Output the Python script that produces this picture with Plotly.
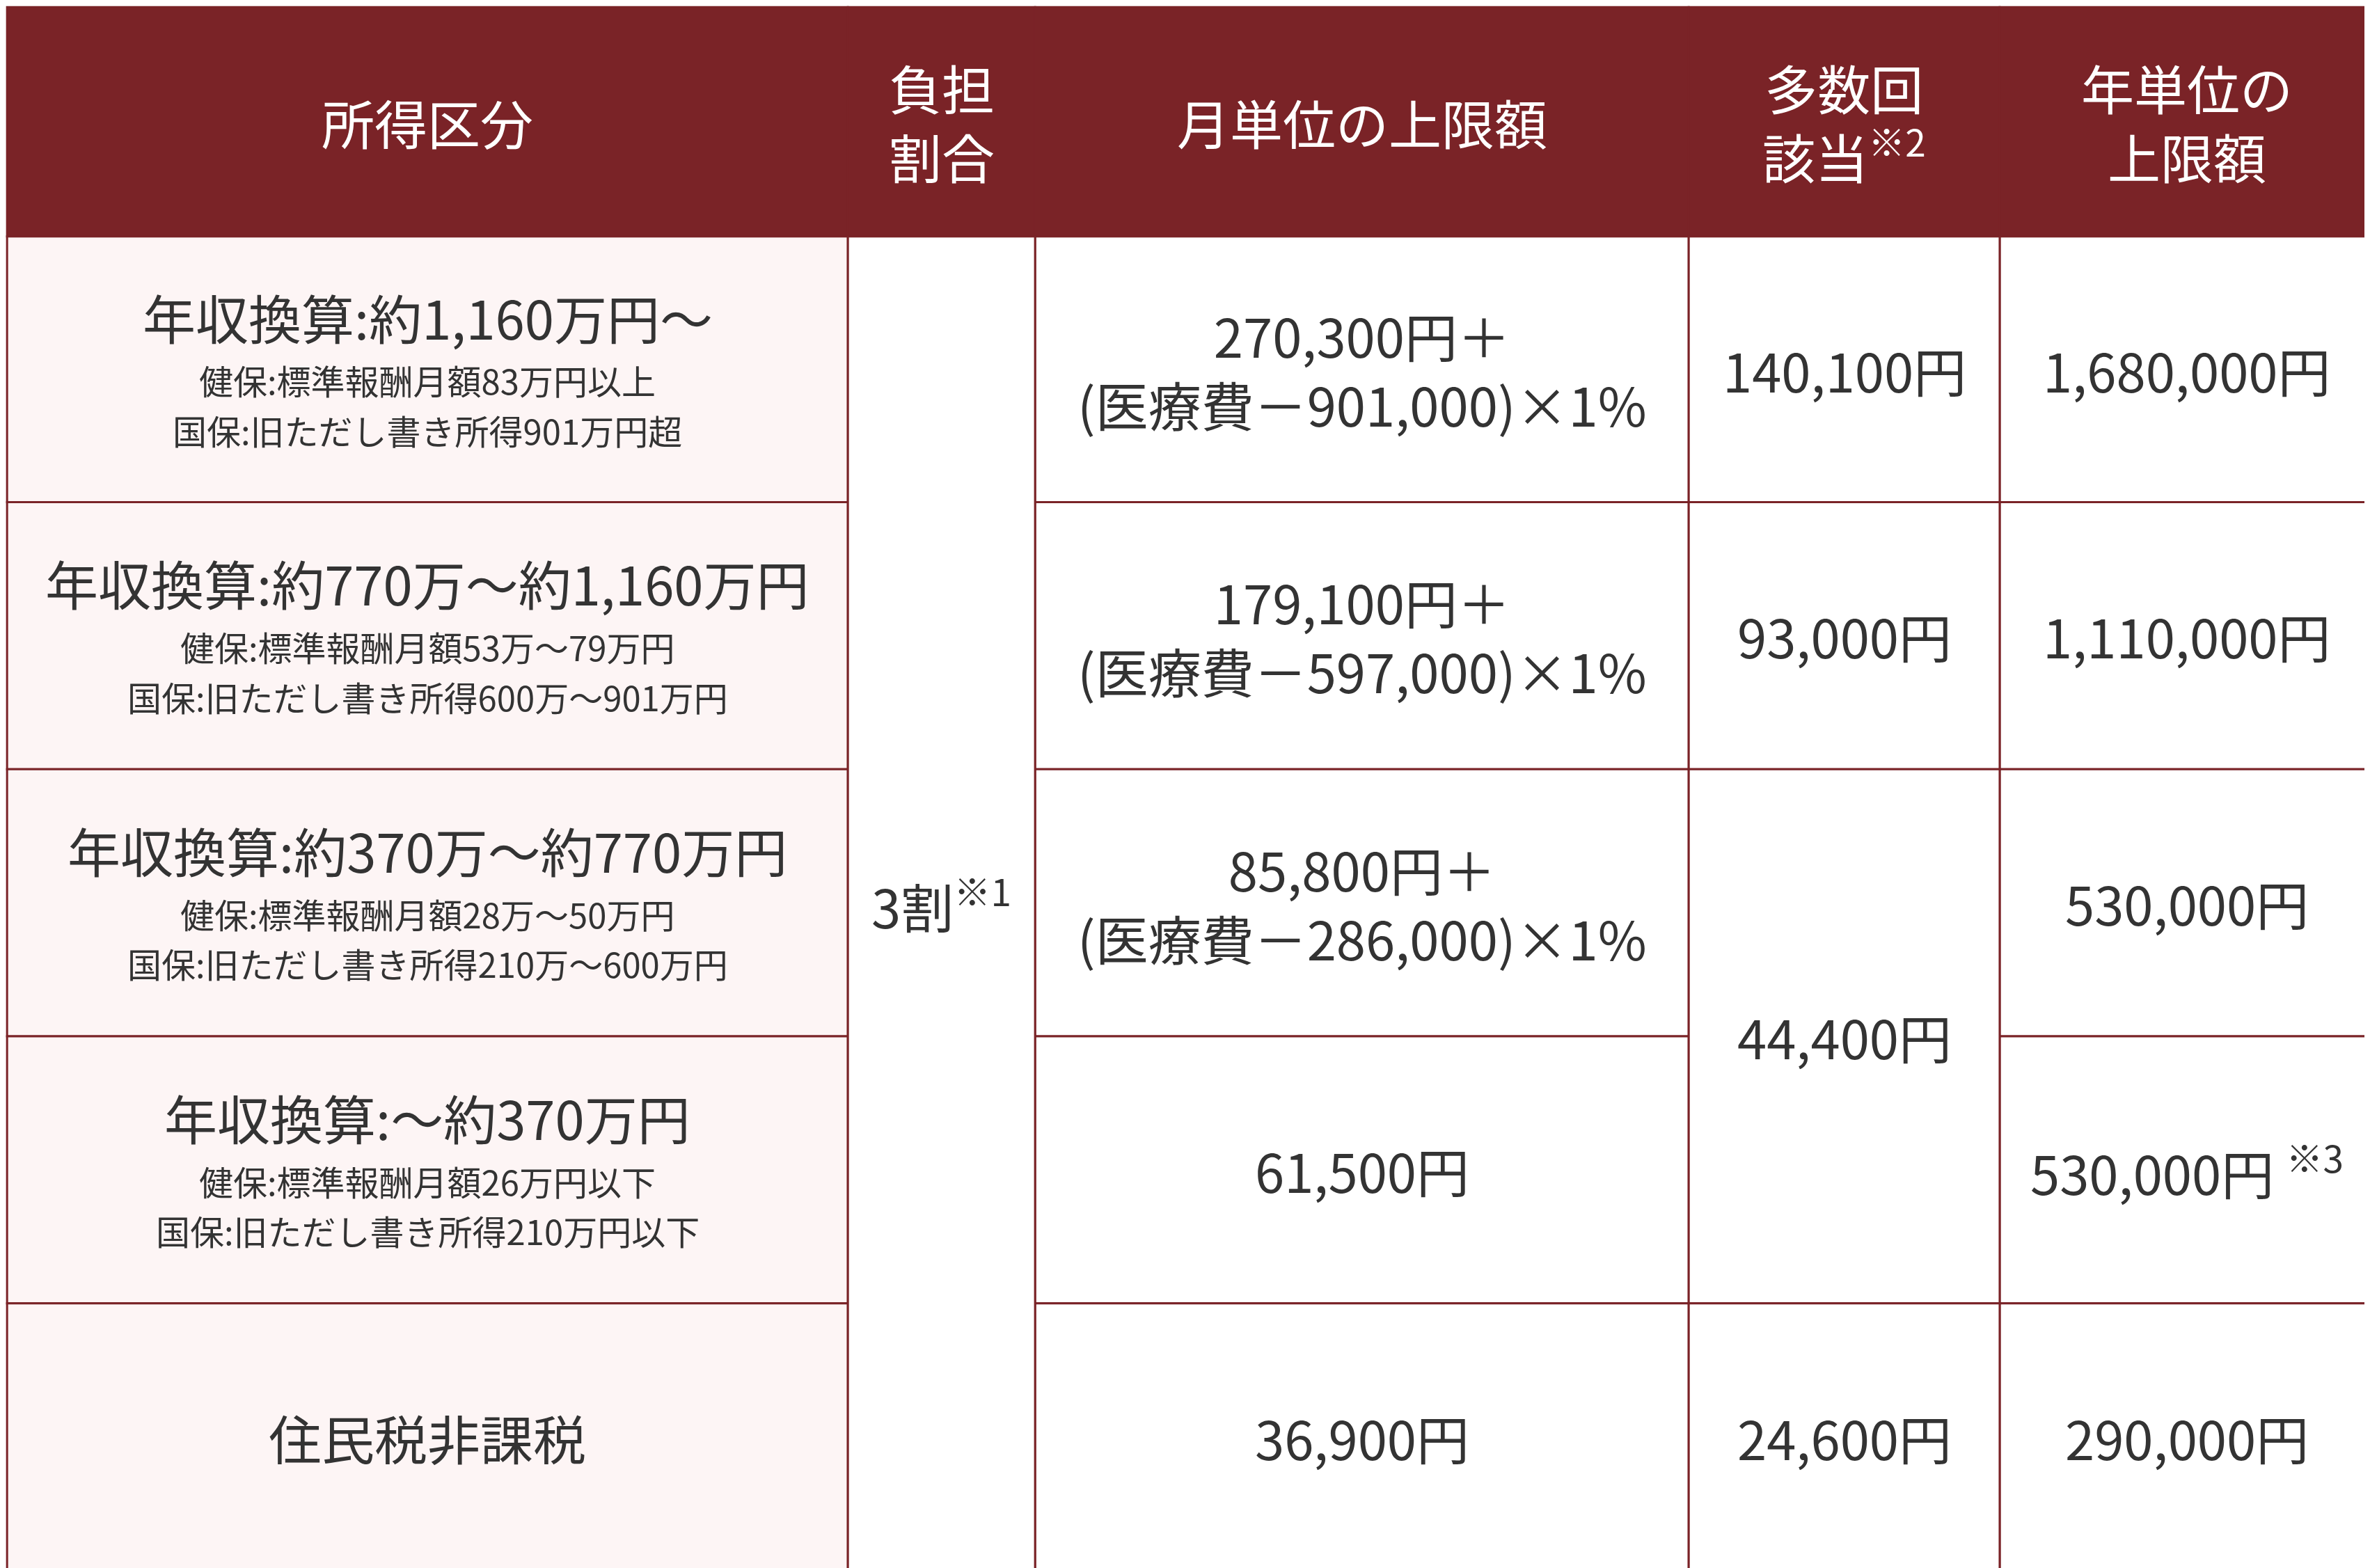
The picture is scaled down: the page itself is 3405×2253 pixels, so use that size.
import plotly.graph_objects as go

# grid (display units, reference ~1568 x 1036)
col_edges = [0, 557, 681, 1114, 1320, 1568]
row_edges = [0, 152, 328, 505, 682, 859, 1036]

headers = ["所得区分", "負担<br>割合", "月単位の上限額", "多数回<br>該当<sup>※2</sup>", "年単位の<br>上限額"]

income_main = ["年収換算:約1,160万円～", "年収換算:約770万～約1,160万円",
               "年収換算:約370万～約770万円", "年収換算:～約370万円", "住民税非課税"]
income_kenpo = ["健保:標準報酬月額83万円以上", "健保:標準報酬月額53万～79万円",
                "健保:標準報酬月額28万～50万円", "健保:標準報酬月額26万円以下", ""]
income_kokuho = ["国保:旧ただし書き所得901万円超", "国保:旧ただし書き所得600万～901万円",
                 "国保:旧ただし書き所得210万～600万円", "国保:旧ただし書き所得210万円以下", ""]
burden = "3割<sup>※1</sup>"
monthly = ["270,300円＋<br>(医療費－901,000)×1%", "179,100円＋<br>(医療費－597,000)×1%",
           "85,800円＋<br>(医療費－286,000)×1%", "61,500円", "36,900円"]
# (text, first row, last row)
multi = [("140,100円", 0, 0), ("93,000円", 1, 1), ("44,400円", 2, 3), ("24,600円", 4, 4)]
annual = ["1,680,000円", "1,110,000円", "530,000円", "530,000円 <sup>※3</sup>", "290,000円"]

DARK = "#7a2327"
PINK = "#fdf5f5"
TEXT = "#333333"
S = 3405 / 1568
BIG = int(35 * S)
SMALL = int(23 * S)

fig = go.Figure()
shapes, annos = [], []

def label(x, y, text, size, color=TEXT):
    annos.append(dict(x=x, y=y, xref="x", yref="y", text=text, showarrow=False,
                      font=dict(size=size, color=color), align="center"))

def cell(c, r0, r1, text, fill, color=TEXT, size=BIG):
    x0, x1 = col_edges[c], col_edges[c + 1]
    y0, y1 = row_edges[r0], row_edges[r1 + 1]
    shapes.append(dict(type="rect", xref="x", yref="y", x0=x0, x1=x1, y0=y0, y1=y1,
                       fillcolor=fill, line=dict(color=DARK, width=3), layer="below"))
    if text:
        label((x0 + x1) / 2, (y0 + y1) / 2, text, size, color)
    return (x0 + x1) / 2, (y0 + y1) / 2

for i, h in enumerate(headers):
    cell(i, 0, 0, h, DARK, color="white")

for i in range(5):
    r = i + 1
    if income_kenpo[i]:
        cx, cy = cell(0, r, r, "", PINK)
        label(cx, cy - 35, income_main[i], BIG)
        label(cx, cy + 7, income_kenpo[i], SMALL)
        label(cx, cy + 40, income_kokuho[i], SMALL)
    else:
        cell(0, r, r, income_main[i], PINK)
    cell(2, r, r, monthly[i], "white")
    cell(4, r, r, annual[i], "white")

cell(1, 1, 5, burden, "white")
for t, a, b in multi:
    cell(3, a + 1, b + 1, t, "white")

fig.update_layout(
    width=3405, height=2253, margin=dict(l=0, r=0, t=0, b=0),
    paper_bgcolor="white", plot_bgcolor="white",
    font=dict(family="Noto Sans CJK JP"),
    shapes=shapes, annotations=annos, showlegend=False,
    xaxis=dict(range=[-1, 1569], visible=False, fixedrange=True),
    yaxis=dict(range=[1038, -1], visible=False, fixedrange=True),
)
fig.add_trace(go.Scatter(x=[0, 1568], y=[0, 1036], mode="markers", marker=dict(opacity=0),
                         hoverinfo="skip"))
fig.write_html("out.html")
